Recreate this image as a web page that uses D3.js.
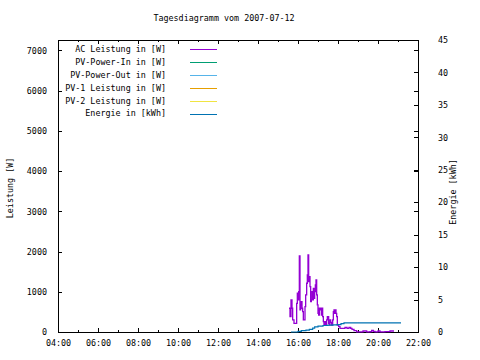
<!DOCTYPE html>
<html><head><meta charset="utf-8">
<script src="https://cdn.jsdelivr.net/npm/d3@7"></script>
<style>body{margin:0;background:#fff}svg{display:block}</style>
</head><body>
<svg id="c" width="480" height="360"></svg>
<script>
const title = "Tagesdiagramm vom 2007-07-12";
const yLabel = "Leistung [W]";
const y2Label = "Energie [kWh]";
const seriesNames = ["AC Leistung in [W]","PV-Power-In in [W]","PV-Power-Out in [W]","PV-1 Leistung in [W]","PV-2 Leistung in [W]","Energie in [kWh]"];
const seriesColors = ["#9400d3","#009e73","#56b4e9","#e69f00","#f0e442","#0072b2"];
const xTicks = ["04:00","06:00","08:00","10:00","12:00","14:00","16:00","18:00","20:00","22:00"];
const yTicks = [0,1000,2000,3000,4000,5000,6000,7000];
const y2Ticks = [0,5,10,15,20,25,30,35,40,45];

// AC Leistung [W] (time, watts)
const acTimes = ["15:33","15:36","15:39","15:42","15:44","15:48","15:54","15:56","15:58","16:00","16:02","16:04","16:06","16:08","16:10","16:12","16:14","16:16","16:19","16:21","16:23","16:26","16:28","16:30","16:32","16:34","16:36","16:38","16:40","16:42","16:44","16:46","16:48","16:50","16:52","16:54","16:56","16:58","17:00","17:02","17:04","17:06","17:08","17:10","17:12","17:14","17:16","17:18","17:20","17:22","17:24","17:26","17:28","17:30","17:32","17:34","17:36","17:38","17:41","17:44","17:46","17:48","17:50","17:52","17:54","17:56","17:58","18:01","18:02","18:06","18:12","18:18","18:21","18:27","18:33","18:38","18:42","18:48","18:56","19:12","19:15","19:21","19:26","19:36","19:41","19:46","19:51","20:00","20:06","20:21","20:36","20:46"];
const acValues = [590,381,797,590,299,216,216,714,963,797,1004,1891,548,672,755,590,506,299,299,630,921,1212,1419,1917,1253,1377,1128,755,797,1004,797,1087,839,1004,1170,1294,921,672,465,423,590,548,590,423,590,381,257,174,174,257,174,299,381,381,216,174,299,241,174,299,506,548,465,548,465,381,174,174,132,92,92,92,117,92,117,92,67,32,5,5,25,25,5,8,42,17,5,25,5,8,25,8];

// Energie [kWh]
const enTimes = ["15:39","16:00","16:10","16:24","16:34","16:44","16:50","17:00","17:15","17:30","17:45","17:57","18:09","18:18","21:09"];
const enValues = [0,0.1,0.2,0.3,0.4,0.6,0.8,0.9,1.0,1.05,1.1,1.15,1.3,1.4,1.4];

const toMin = s => { const [h,m] = s.split(":").map(Number); return h*60+m; };
const fmt = m => String(Math.floor(m/60)).padStart(2,"0")+":"+String(m%60).padStart(2,"0");

const svg = d3.select("#c");
const L=58,R=418,T=40,B=332;
const font = "'DejaVu Sans Mono', monospace";
const fs = "8.4px";

const x = d3.scaleLinear().domain([toMin("04:00"), toMin("22:00")]).range([L,R]);
const y = d3.scaleLinear().domain([0,7260]).range([B,T]);
const y2 = d3.scaleLinear().domain([0,45]).range([B,T]);

svg.append("rect").attr("width",480).attr("height",360).attr("fill","#fff");

function styleAxis(g){
  g.select(".domain").remove();
  g.selectAll("line").attr("stroke","#000").attr("shape-rendering","crispEdges");
  g.selectAll("text").attr("font-family",font).attr("font-size",fs).attr("fill","#000");
}
const major = xTicks.map(toMin);
const minor = d3.range(toMin("05:00"), toMin("22:00"), 120);

svg.append("g").attr("transform",`translate(0,${B})`)
  .call(d3.axisBottom(x).tickValues(major).tickFormat(fmt).tickSize(-4).tickPadding(8)).call(styleAxis);
svg.append("g").attr("transform",`translate(0,${B})`)
  .call(d3.axisBottom(x).tickValues(minor).tickFormat("").tickSize(-2)).call(styleAxis);
svg.append("g").attr("transform",`translate(0,${T})`)
  .call(d3.axisTop(x).tickValues(major).tickFormat("").tickSize(-4)).call(styleAxis);
svg.append("g").attr("transform",`translate(0,${T})`)
  .call(d3.axisTop(x).tickValues(minor).tickFormat("").tickSize(-2)).call(styleAxis);

svg.append("g").attr("transform",`translate(${L},0)`)
  .call(d3.axisLeft(y).tickValues(yTicks).tickFormat(d3.format("d")).tickSize(-4).tickPadding(11)).call(styleAxis);
svg.append("g").attr("transform",`translate(${R},0)`)
  .call(d3.axisLeft(y).tickValues(yTicks.slice(1)).tickFormat("").tickSize(4)).call(styleAxis);
svg.append("g").attr("transform",`translate(${R},0)`)
  .call(d3.axisRight(y2).tickValues(y2Ticks).tickFormat(d3.format("d")).tickSize(-4).tickPadding(20)).call(styleAxis);

svg.append("rect").attr("x",L+0.5).attr("y",T+0.5).attr("width",R-L).attr("height",B-T)
  .attr("fill","none").attr("stroke","#000").attr("shape-rendering","crispEdges");

// legend
const lg = svg.append("g");
seriesNames.forEach((n,i)=>{
  const yy = 49 + i*12.9;
  lg.append("text").attr("x",166).attr("y",yy).attr("dy","0.35em").attr("text-anchor","end")
    .attr("font-family",font).attr("font-size",fs).attr("fill","#000").text(n);
  lg.append("line").attr("x1",190).attr("x2",217).attr("y1",Math.round(yy)+0.5).attr("y2",Math.round(yy)+0.5)
    .attr("stroke",seriesColors[i]).attr("stroke-width",1);
});

// data lines
const ac = acTimes.map((t,i)=>[toMin(t),acValues[i]]);
const en = enTimes.map((t,i)=>[toMin(t),enValues[i]]);
svg.append("path").datum(ac).attr("fill","none").attr("stroke",seriesColors[0]).attr("stroke-width",1.3)
  .attr("d",d3.line().x(d=>x(d[0])).y(d=>y(d[1])).curve(d3.curveStepAfter));
svg.append("path").datum(en).attr("fill","none").attr("stroke",seriesColors[5]).attr("stroke-width",1.2)
  .attr("d",d3.line().x(d=>x(d[0])).y(d=>y2(d[1])).curve(d3.curveStepAfter));

// titles
svg.append("text").attr("x",224).attr("y",18).attr("dy","0.35em").attr("text-anchor","middle")
  .attr("font-family",font).attr("font-size",fs).text(title);
svg.append("text").attr("transform","translate(10,188) rotate(-90)").attr("dy","0.35em").attr("text-anchor","middle")
  .attr("font-family",font).attr("font-size",fs).text(yLabel);
svg.append("text").attr("transform","translate(453,192) rotate(-90)").attr("dy","0.35em").attr("text-anchor","middle")
  .attr("font-family",font).attr("font-size",fs).text(y2Label);
</script>
</body></html>
